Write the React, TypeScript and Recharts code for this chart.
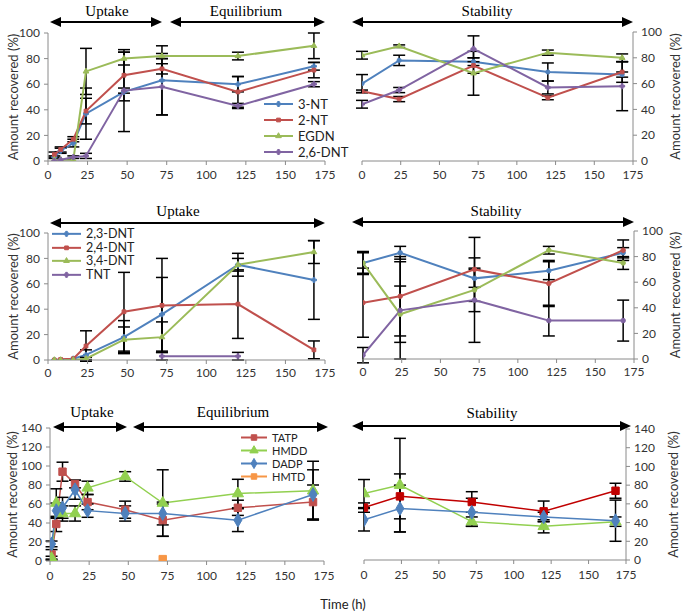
import React from "react";
import { LineChart, Line, XAxis, YAxis, ErrorBar, Legend, Symbols } from "recharts";

const FONT = "Lato, 'Open Sans', sans-serif";
const SERIF = "'Liberation Serif', 'DejaVu Serif', serif";

const BLUE = "#4f81bd";
const RED = "#c0504d";
const GREEN = "#9bbb59";
const PURPLE = "#8064a2";
const ORANGE = "#f79646";

const xTicks = [0, 25, 50, 75, 100, 125, 150, 175];
const yTicks100 = [0, 20, 40, 60, 80, 100];
const yTicks140 = [0, 20, 40, 60, 80, 100, 120, 140];

// row 1: nitro compounds
const uptakeTimesA = [4, 8, 16, 24, 48, 72, 120, 168];
const nt3Uptake = [3, 8, 14, 37, 54, 63, 60, 74];
const nt3UptakeErr = [1, 2, 3, 20, 31, 27, 6, 3];
const nt2Uptake = [5, 9, 17, 39, 67, 72, 54, 71];
const nt2UptakeErr = [2, 2, 2, 10, 20, 4, 12, 6];
const egdnUptake = [1, 1, 1, 70, 80, 82, 82, 90];
const egdnUptakeErr = [0, 0, 0, 18, 5, 2, 3, 10];
const dnt26Uptake = [0, 1, 3, 4, 55, 58, 43, 60];
const dnt26UptakeErr = [0, 0, 1, 2, 2, 22, 2, 2];

const stabTimes = [0, 24, 72, 120, 168];
const nt3Stab = [60, 78, 77, 69, 67];
const nt3StabErr = [7, 4, 3, 7, 2];
const nt2Stab = [54, 48, 74, 49, 69];
const nt2StabErr = [1, 2, 6, 1.5, 8];
const egdnStab = [82, 89, 68, 84, 80];
const egdnStabErr = [3, 1, 17, 2, 3];
const dnt26Stab = [44, 55, 87, 57, 58];
const dnt26StabErr = [3, 2, 10, 5, 19];

// row 2: DNT isomers + TNT
const dnt23Uptake = [0, 0, 1, 4, 18, 36, 75, 63];
const dnt23UptakeErr = [0, 0, 0, 4, 13, 29, 5, 31];
const dnt24Uptake = [0, 0.5, 1, 11, 38, 43, 44, 8];
const dnt24UptakeErr = [0, 0, 0, 12, 31, 37, 27, 7];
const dnt34Uptake = [0, 0, 0, 1, 16, 18, 75, 85];
const dnt34UptakeErr = [0, 0, 0, 1, 10, 12, 9, 9];
const tntTimes = [72, 120];
const tntUptake = [3, 3];
const tntUptakeErr = [3, 3];

const dnt23Stab = [75, 83, 63, 69, 83];
const dnt23StabErr = [8, 5, 7, 7, 4];
const dnt24Stab = [44, 49, 70, 59, 85];
const dnt24StabErr = [27, 31, 25, 18, 8];
const dnt34Stab = [75, 35, 54, 85, 75];
const dnt34StabErr = [9, 22, 17, 3, 5];
const tntStab = [3, 38, 46, 30, 30];
const tntStabErr = [6, 38, 33, 12, 16];

// row 3: peroxides
const uptakeTimesE = [1, 4, 8, 16, 24, 48, 72, 120, 168];
const tatpUptake = [7, 39, 94, 81, 62, 54, 43, 56, 62];
const tatpUptakeErr = [5, 8, 10, 4, 8, 9, 17, 8, 18];
const hmddUptake = [3, 61, 50, 50, 77, 89, 61, 71, 74];
const hmddUptakeErr = [2, 15, 8, 8, 7, 5, 35, 15, 31];
const dadpUptake = [18, 53, 56, 75, 53, 50, 50, 43, 70];
const dadpUptakeErr = [3, 8, 11, 10, 7, 8, 12, 12, 26];
const hmtdTimes = [72];
const hmtdUptake = [2];

const tatpStab = [56, 68, 62, 52, 74];
const tatpStabErr = [5, 24, 11, 11, 8];
const hmddStab = [71, 80, 41, 36, 41];
const hmddStabErr = [15, 50, 5, 7, 5];
const dadpStab = [43, 55, 51, 46, 42];
const dadpStabErr = [12, 25, 15, 5, 22];

type Pt = { t: number; v: number; e?: number };
type Series = { name: string; color: string; shape: any; data: Pt[]; hasErr: boolean };

const toData = (times: number[], vals: number[], errs?: number[]): Pt[] =>
  times.map((t, i) => ({ t, v: vals[i], e: errs ? errs[i] : undefined }));

const mk = (name: string, color: string, shape: string, times: number[], vals: number[], errs?: number[]): Series => ({
  name,
  color,
  shape,
  data: toData(times, vals, errs),
  hasErr: !!errs,
});

const seriesA = [
  mk("3-NT", BLUE, "cross", uptakeTimesA, nt3Uptake, nt3UptakeErr),
  mk("2-NT", RED, "square", uptakeTimesA, nt2Uptake, nt2UptakeErr),
  mk("EGDN", GREEN, "triangle", uptakeTimesA, egdnUptake, egdnUptakeErr),
  mk("2,6-DNT", PURPLE, "cross", uptakeTimesA, dnt26Uptake, dnt26UptakeErr),
];
const seriesB = [
  mk("3-NT", BLUE, "circle", stabTimes, nt3Stab, nt3StabErr),
  mk("2-NT", RED, "square", stabTimes, nt2Stab, nt2StabErr),
  mk("EGDN", GREEN, "triangle", stabTimes, egdnStab, egdnStabErr),
  mk("2,6-DNT", PURPLE, "cross", stabTimes, dnt26Stab, dnt26StabErr),
];
const seriesC = [
  mk("2,3-DNT", BLUE, "cross", uptakeTimesA, dnt23Uptake, dnt23UptakeErr),
  mk("2,4-DNT", RED, "square", uptakeTimesA, dnt24Uptake, dnt24UptakeErr),
  mk("3,4-DNT", GREEN, "triangle", uptakeTimesA, dnt34Uptake, dnt34UptakeErr),
  mk("TNT", PURPLE, "cross", tntTimes, tntUptake, tntUptakeErr),
];
const seriesD = [
  mk("2,3-DNT", BLUE, "circle", stabTimes, dnt23Stab, dnt23StabErr),
  mk("2,4-DNT", RED, "circle", stabTimes, dnt24Stab, dnt24StabErr),
  mk("3,4-DNT", GREEN, "circle", stabTimes, dnt34Stab, dnt34StabErr),
  mk("TNT", PURPLE, "circle", stabTimes, tntStab, tntStabErr),
];
const seriesE = [
  mk("TATP", RED, "square", uptakeTimesE, tatpUptake, tatpUptakeErr),
  mk("HMDD", "#92d050", "triangle", uptakeTimesE, hmddUptake, hmddUptakeErr),
  mk("DADP", BLUE, "diamond", uptakeTimesE, dadpUptake, dadpUptakeErr),
  mk("HMTD", ORANGE, "square", hmtdTimes, hmtdUptake),
];
const seriesF = [
  mk("TATP", "#c00000", "square", stabTimes, tatpStab, tatpStabErr),
  mk("HMDD", "#92d050", "triangle", stabTimes, hmddStab, hmddStabErr),
  mk("DADP", BLUE, "diamond", stabTimes, dadpStab, dadpStabErr),
];

type LegendCfg = { left: number; top: number; rowH: number; lineLen: number; fontSize: number; marker: number };

function SeriesLegend({ series, cfg }: { series: Series[]; cfg: LegendCfg }) {
  return (
    <div style={{ fontFamily: FONT, fontSize: cfg.fontSize, lineHeight: `${cfg.rowH}px`, color: "#222", whiteSpace: "nowrap" }}>
      {series.map((s) => (
        <div key={s.name} style={{ display: "flex", alignItems: "center", height: cfg.rowH }}>
          <svg width={cfg.lineLen} height={cfg.rowH} style={{ marginRight: 5, display: "block" }}>
            <line x1={0} x2={cfg.lineLen} y1={cfg.rowH / 2} y2={cfg.rowH / 2} stroke={s.color} strokeWidth={2} />
            <Symbols cx={cfg.lineLen / 2} cy={cfg.rowH / 2} type={s.shape} size={cfg.marker} fill={s.color} stroke={s.color} />
          </svg>
          <span>{s.name}</span>
        </div>
      ))}
    </div>
  );
}

type PanelProps = {
  left: number;
  top: number;
  width: number;
  height: number;
  margin: { top: number; right: number; bottom: number; left: number };
  side: "left" | "right";
  yWidth: number;
  yMax: number;
  yTicks: number[];
  labelOffset: number;
  tickMargin: number;
  series: Series[];
  markerSize: number;
  strokeWidth: number;
  legend?: LegendCfg;
};

function Panel(p: PanelProps) {
  const tickStyle = { fontFamily: FONT, fontSize: 12, fill: "#333" };
  return (
    <div style={{ position: "absolute", left: p.left, top: p.top }}>
      <LineChart width={p.width} height={p.height} margin={p.margin}>
        <XAxis
          dataKey="t"
          type="number"
          domain={[0, 175]}
          ticks={xTicks}
          interval={0}
          allowDataOverflow
          tick={tickStyle}
          tickSize={4}
          tickMargin={p.tickMargin}
          height={24}
          stroke="#8a8a8a"
        />
        <YAxis
          orientation={p.side}
          type="number"
          domain={[0, p.yMax]}
          ticks={p.yTicks}
          interval={0}
          allowDataOverflow
          width={p.yWidth}
          tick={tickStyle}
          tickSize={4}
          tickMargin={4}
          stroke="#8a8a8a"
          label={{
            value: "Amount recovered (%)",
            angle: -90,
            position: p.side === "left" ? "insideLeft" : "insideRight",
            offset: p.labelOffset,
            style: { textAnchor: "middle", fontFamily: FONT, fontSize: 13, fill: "#333" },
          }}
        />
        {p.series.map((s) => (
          <Line
            key={s.name}
            name={s.name}
            data={s.data}
            dataKey="v"
            stroke={s.color}
            strokeWidth={p.strokeWidth}
            isAnimationActive={false}
            dot={(d: any) => (
              <Symbols
                key={`${s.name}-${d.index}`}
                cx={d.cx}
                cy={d.cy}
                type={s.shape}
                size={p.markerSize}
                fill={s.color}
                stroke={s.color}
              />
            )}
            activeDot={false}
          >
            {s.hasErr && <ErrorBar dataKey="e" width={6} stroke="#000" strokeWidth={1.5} direction="y" />}
          </Line>
        ))}
        {p.legend && (
          <Legend
            layout="vertical"
            align="center"
            verticalAlign="middle"
            wrapperStyle={{ left: p.legend.left, top: p.legend.top, width: 90, bottom: "auto" }}
            content={() => <SeriesLegend series={p.series} cfg={p.legend!} />}
          />
        )}
      </LineChart>
    </div>
  );
}

function Arrow({ x1, x2, y }: { x1: number; x2: number; y: number }) {
  const h = 11;
  const w = 5;
  return (
    <g>
      <line x1={x1 + h} x2={x2 - h} y1={y} y2={y} stroke="#000" strokeWidth={2} />
      <polygon points={`${x1},${y} ${x1 + h},${y - w} ${x1 + h},${y + w}`} fill="#000" />
      <polygon points={`${x2},${y} ${x2 - h},${y - w} ${x2 - h},${y + w}`} fill="#000" />
    </g>
  );
}

const phaseText = { fontFamily: SERIF, fontSize: 15, fill: "#000", textAnchor: "middle" as const };

export default function App() {
  return (
    <div style={{ position: "absolute", left: 0, top: 0, width: 685, height: 613, background: "#fff", overflow: "hidden" }}>
      <Panel
        left={0} top={0} width={340} height={195}
        margin={{ top: 33, right: 15, bottom: 10, left: 0 }}
        side="left" yWidth={48} yMax={100} yTicks={yTicks100} labelOffset={13} tickMargin={5}
        series={seriesA} markerSize={14} strokeWidth={2}
        legend={{ left: 264, top: 96, rowH: 16, lineLen: 29, fontSize: 13, marker: 14 }}
      />
      <Panel
        left={340} top={0} width={345} height={195}
        margin={{ top: 32, right: 0, bottom: 10, left: 22 }}
        side="right" yWidth={52} yMax={100} yTicks={yTicks100} labelOffset={10} tickMargin={5}
        series={seriesB} markerSize={14} strokeWidth={2}
      />
      <Panel
        left={0} top={195} width={340} height={200}
        margin={{ top: 38, right: 15, bottom: 11, left: 0 }}
        side="left" yWidth={48} yMax={100} yTicks={yTicks100} labelOffset={13} tickMargin={4}
        series={seriesC} markerSize={14} strokeWidth={2}
        legend={{ left: 52, top: 32, rowH: 13.7, lineLen: 29, fontSize: 12.5, marker: 14 }}
      />
      <Panel
        left={340} top={195} width={345} height={200}
        margin={{ top: 36, right: 0, bottom: 12, left: 23 }}
        side="right" yWidth={51} yMax={100} yTicks={yTicks100} labelOffset={10} tickMargin={4}
        series={seriesD} markerSize={16} strokeWidth={2}
      />
      <Panel
        left={0} top={395} width={340} height={190}
        margin={{ top: 33, right: 16, bottom: 0, left: 0 }}
        side="left" yWidth={50} yMax={140} yTicks={yTicks140} labelOffset={12} tickMargin={6}
        series={seriesE} markerSize={55} strokeWidth={1.5}
        legend={{ left: 241, top: 36, rowH: 13, lineLen: 26, fontSize: 11, marker: 30 }}
      />
      <Panel
        left={340} top={395} width={345} height={190}
        margin={{ top: 34, right: 0, bottom: 1, left: 24 }}
        side="right" yWidth={59} yMax={140} yTicks={yTicks140} labelOffset={12} tickMargin={6}
        series={seriesF} markerSize={55} strokeWidth={1.5}
      />
      <svg width={685} height={613} style={{ position: "absolute", left: 0, top: 0, pointerEvents: "none" }}>
        <Arrow x1={50} x2={162} y={22} />
        <Arrow x1={170} x2={325} y={22} />
        <text x={107} y={16} style={phaseText}>Uptake</text>
        <text x={246} y={16} style={phaseText}>Equilibrium</text>
        <Arrow x1={352} x2={633} y={22} />
        <text x={487} y={16} style={phaseText}>Stability</text>

        <Arrow x1={50} x2={325} y={223} />
        <text x={178} y={216} style={phaseText}>Uptake</text>
        <Arrow x1={352} x2={634} y={222} />
        <text x={496} y={216} style={phaseText}>Stability</text>

        <Arrow x1={53} x2={127} y={427} />
        <Arrow x1={133} x2={328} y={427} />
        <text x={92} y={417} style={phaseText}>Uptake</text>
        <text x={233} y={417} style={phaseText}>Equilibrium</text>
        <Arrow x1={352} x2={631} y={426} />
        <text x={492} y={418} style={phaseText}>Stability</text>

        <text x={343} y={609} style={{ fontFamily: FONT, fontSize: 13, fill: "#222", textAnchor: "middle" }}>
          Time (h)
        </text>
      </svg>
    </div>
  );
}
